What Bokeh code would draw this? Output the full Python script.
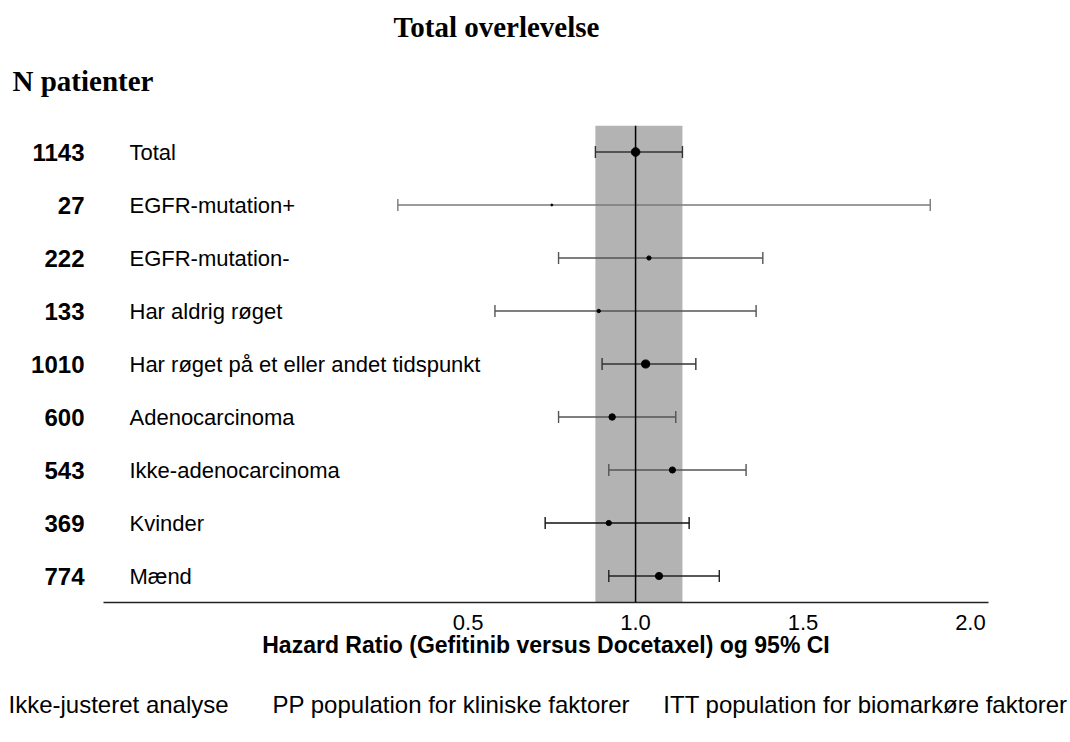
import numpy as np
from bokeh.plotting import figure
from bokeh.layouts import column
from bokeh.models import (FactorRange, Range1d, FixedTicker, BoxAnnotation, Span,
                          ColumnDataSource, NumeralTickFormatter)
from bokeh.core.properties import value
from bokeh.embed import file_html
from bokeh.resources import INLINE

# ---------------- data ----------------
subgroups = ["Total", "EGFR-mutation+", "EGFR-mutation-", "Har aldrig røget",
             "Har røget på et eller andet tidspunkt", "Adenocarcinoma",
             "Ikke-adenocarcinoma", "Kvinder", "Mænd"]
n_patients = [1143, 27, 222, 133, 1010, 600, 543, 369, 774]
hazard_ratio = [1.00, 0.75, 1.04, 0.89, 1.03, 0.93, 1.11, 0.92, 1.07]
ci_lower = [0.88, 0.29, 0.77, 0.58, 0.90, 0.77, 0.92, 0.73, 0.92]
ci_upper = [1.14, 1.88, 1.38, 1.36, 1.18, 1.12, 1.33, 1.16, 1.25]
x_ticks = [0.5, 1.0, 1.5, 2.0]

title_text = "Total overlevelse"
n_header = "N patienter"
x_title = "Hazard Ratio (Gefitinib versus Docetaxel) og 95% CI"
footer_texts = ["Ikke-justeret analyse", "PP population for kliniske faktorer",
                "ITT population for biomarkøre faktorer"]

# ---------------- styles ----------------
bar_colors = ["#333333", "#7a7a7a", "#555555", "#555555", "#333333",
              "#555555", "#555555", "#111111", "#222222"]
SANS = "Liberation Sans"
SERIF = "Liberation Serif"
PAGE_W = 1070
TOP_H = 117
B_LEFT, B_RIGHT, B_TOP, B_BOTTOM = 103, 82, 8, 70
FRAME_H = 477
MAIN_H = B_TOP + FRAME_H + B_BOTTOM
FOOT_H = 742 - TOP_H - MAIN_H
X0, X1 = -0.589, 2.054
frame_w = PAGE_W - B_LEFT - B_RIGHT


def px_x(px):
    """page x pixel -> data x of the main plot"""
    return X0 + (px - B_LEFT) / frame_w * (X1 - X0)


def text_fig(height, y_top):
    f = figure(width=PAGE_W, height=height, output_backend="svg", toolbar_location=None,
               x_range=Range1d(0, PAGE_W), y_range=Range1d(y_top + height, y_top),
               min_border=0, x_axis_type=None, y_axis_type=None, frame_align=False)
    f.outline_line_color = None
    f.grid.visible = False
    return f


# ---------------- header ----------------
top = text_fig(TOP_H, 0)
top.text(x=[496], y=[26], text=[title_text], text_font=value(SERIF), text_font_size="29px",
         text_font_style="bold", text_align="center", text_baseline="alphabetic",
         text_color="black")
top.text(x=[12], y=[80], text=[n_header], text_font=value(SERIF), text_font_size="29px",
         text_font_style="bold", text_align="left", text_baseline="alphabetic",
         text_color="black")

# ---------------- main forest plot ----------------
n_str = [str(n) for n in n_patients]
factors = list(reversed(n_str))

p = figure(width=PAGE_W, height=MAIN_H, output_backend="svg", toolbar_location=None,
           x_range=Range1d(X0, X1), y_range=FactorRange(factors=factors, range_padding=0),
           min_border_left=B_LEFT, min_border_right=B_RIGHT,
           min_border_top=B_TOP, min_border_bottom=B_BOTTOM, frame_align=False)
p.outline_line_color = None
p.grid.visible = False

src = ColumnDataSource(dict(y=n_str, name=subgroups, hr=hazard_ratio, lo=ci_lower,
                            hi=ci_upper, color=bar_colors,
                            size=[0.23 * np.sqrt(n) + 0.8 for n in n_patients],
                            lx=[px_x(129)] * len(n_str)))

p.add_layout(BoxAnnotation(left=ci_lower[0], right=ci_upper[0], fill_color="#b3b3b3",
                           fill_alpha=1.0, line_color=None, level="underlay"))
p.add_layout(Span(location=1.0, dimension="height", line_color="black", line_width=1.5))

p.segment(x0="lo", y0="y", x1="hi", y1="y", source=src, line_color="color", line_width=1.4)
p.scatter(x="lo", y="y", source=src, marker="dash", angle=np.pi / 2, size=12,
          line_color="color", line_width=1.4)
p.scatter(x="hi", y="y", source=src, marker="dash", angle=np.pi / 2, size=12,
          line_color="color", line_width=1.4)
p.scatter(x="hr", y="y", source=src, marker="circle", size="size",
          fill_color="black", line_color="black")

p.text(x="lx", y="y", text="name", source=src, text_font=value(SANS),
       text_font_size="22px", text_baseline="middle", text_align="left", text_color="black")

xa = p.xaxis[0]
xa.ticker = FixedTicker(ticks=x_ticks)
xa.formatter = NumeralTickFormatter(format="0.0")
xa.axis_line_color = "#222222"
xa.axis_line_width = 1.5
xa.major_tick_line_color = None
xa.minor_tick_line_color = None
xa.major_tick_out = 0
xa.major_tick_in = 0
xa.major_label_standoff = 12
xa.major_label_text_font = SANS
xa.major_label_text_font_size = "22px"
xa.major_label_text_color = "black"
xa.axis_label = x_title
xa.axis_label_text_font = SANS
xa.axis_label_text_font_size = "23px"
xa.axis_label_text_font_style = "bold"
xa.axis_label_text_color = "black"
xa.axis_label_standoff = -1

ya = p.yaxis[0]
ya.axis_line_color = None
ya.major_tick_line_color = None
ya.minor_tick_line_color = None
ya.major_tick_out = 0
ya.major_tick_in = 0
ya.major_label_standoff = 19
ya.major_label_text_font = SANS
ya.major_label_text_font_size = "24px"
ya.major_label_text_font_style = "bold"
ya.major_label_text_color = "black"

# ---------------- footer ----------------
foot_top = TOP_H + MAIN_H
foot = text_fig(FOOT_H, foot_top)
foot.text(x=[8, 272, 1067], y=[704] * 3, text=footer_texts, text_font=value(SANS),
          text_font_size="24px", text_align=["left", "left", "right"],
          text_baseline="alphabetic", text_color="black")

layout = column(top, p, foot, spacing=0)
open("out.html", "w").write(file_html(layout, INLINE))
